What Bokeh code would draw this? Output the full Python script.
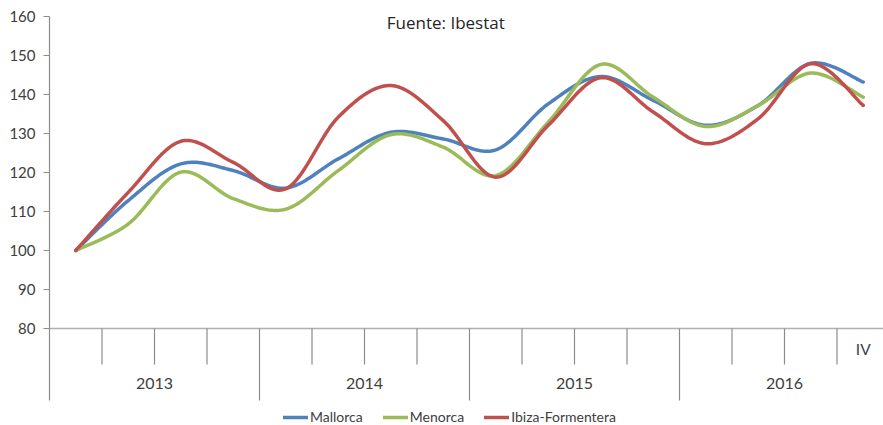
import numpy as np
from bokeh.plotting import figure
from bokeh.models import (ColumnDataSource, Legend, LegendItem, Label, FixedTicker,
                          LinearAxis, Range1d)
from bokeh.core.properties import value
from bokeh.embed import file_html
from bokeh.resources import INLINE

# ---------------- data ----------------
years = ["2013", "2014", "2015", "2016"]
quarter_labels = ["", "", "", "", "", "", "", "", "", "", "", "", "", "", "", "IV"]
mallorca = [100, 112.8, 122.2, 120.5, 116.0, 123.5, 130.3, 128.6, 125.8, 137.6, 144.6, 138.5, 132.1, 137.2, 148.0, 143.2]
menorca = [100, 106.8, 120.1, 113.3, 110.6, 120.5, 129.7, 126.5, 119.2, 132.9, 147.7, 139.3, 131.8, 137.2, 145.5, 139.3]
ibiza = [100, 114.9, 128.0, 122.6, 115.8, 134.2, 142.3, 133.3, 118.8, 132.1, 144.3, 135.5, 127.4, 133.8, 147.9, 137.2]
y_ticks = [80, 90, 100, 110, 120, 130, 140, 150, 160]

FONT = "Lato"
TEXT_COL = "#404040"
AXIS_COL = "#8c8c8c"

def smooth(vals, n=24):
    """Cubic Bezier (Catmull-Rom style) curve through the data points."""
    y = np.asarray(vals, dtype=float)
    x = np.arange(len(y), dtype=float)
    P = np.column_stack([x, y])
    out = []
    for i in range(len(P) - 1):
        p0 = P[i]
        p3 = P[i + 1]
        pm = P[i - 1] if i > 0 else P[i]
        pp = P[i + 2] if i + 2 < len(P) else P[i + 1]
        c1 = p0 + (p3 - pm) / 6.0
        c2 = p3 - (pp - p0) / 6.0
        t = np.linspace(0, 1, n, endpoint=(i == len(P) - 2))[:, None]
        seg = ((1 - t) ** 3) * p0 + 3 * ((1 - t) ** 2) * t * c1 + 3 * (1 - t) * t ** 2 * c2 + t ** 3 * p3
        out.append(seg)
    c = np.vstack(out)
    return c[:, 0], c[:, 1]

n = len(mallorca)
px_per_unit = 3.9
y_top = 160
frame_h = 409
y_bottom = y_top - frame_h / px_per_unit
x_start = -0.5
x_end = x_start + 834 / 52.5

p = figure(width=883, height=425, output_backend="svg", toolbar_location=None,
           x_range=Range1d(x_start, x_end), y_range=Range1d(y_bottom, y_top),
           min_border_left=49, min_border_right=0, min_border_top=16, min_border_bottom=0,
           outline_line_color=None, background_fill_color="white", border_fill_color="white",
           x_axis_type=None, y_axis_type=None)
p.xgrid.visible = False
p.ygrid.visible = False

# y axis
yax = LinearAxis(ticker=FixedTicker(ticks=y_ticks), bounds=(80 - 72 / px_per_unit, 160))
yax.axis_line_color = AXIS_COL
yax.axis_line_width = 1.2
yax.major_tick_line_color = AXIS_COL
yax.major_tick_out = 6
yax.major_tick_in = 0
yax.minor_tick_line_color = None
yax.major_label_text_font = FONT
yax.major_label_text_font_size = "15px"
yax.major_label_text_color = TEXT_COL
yax.major_label_standoff = 8
p.add_layout(yax, "left")

# x axis line and category ticks
p.segment(x0=[x_start], y0=[80], x1=[x_end], y1=[80], line_color="#b0b0b0", line_width=1.5)
bounds = np.arange(n - 1) + 0.5
short_y = 80 - 36 / px_per_unit
tall_y = 80 - 72 / px_per_unit
tick_end = [tall_y if (b + 0.5) % 4 == 0 else short_y for b in bounds]
p.segment(x0=bounds, y0=[80] * len(bounds), x1=bounds, y1=tick_end, line_color=AXIS_COL, line_width=1.2)

# quarter labels
q_src = ColumnDataSource(dict(x=np.arange(n), y=[80 - 20 / px_per_unit] * n, t=quarter_labels))
p.text(x="x", y="y", text="t", source=q_src, text_font=value(FONT), text_font_size="15.5px",
       text_color=TEXT_COL, text_align="center", text_baseline="middle")

# year labels
yr_src = ColumnDataSource(dict(x=[4 * k + 1.5 for k in range(len(years))],
                               y=[80 - 55 / px_per_unit] * len(years), t=years))
p.text(x="x", y="y", text="t", source=yr_src, text_font=value(FONT), text_font_size="16px",
       text_color=TEXT_COL, text_align="center", text_baseline="middle")

# series
series = [("Mallorca", mallorca, "#4F81BD"), ("Menorca", menorca, "#9BBB59"),
          ("Ibiza-Formentera", ibiza, "#C0504D")]
items = []
for name, vals, col in series:
    xs, ys = smooth(vals)
    r = p.line(xs, ys, line_color=col, line_width=3.5, line_cap="round", line_join="round")
    items.append(LegendItem(label=name, renderers=[r]))

legend = Legend(items=items, orientation="horizontal", location=(234, 0),
                glyph_width=25, glyph_height=14, label_height=14, label_standoff=2,
                spacing=20, padding=0, margin=0, border_line_color=None,
                background_fill_alpha=0, label_text_font=FONT, label_text_font_size="14px",
                label_text_color=TEXT_COL)
p.add_layout(legend)

# title
p.add_layout(Label(x=(445 - 75) / 52.5, y=160 - 6 / px_per_unit, text="Fuente: Ibestat",
                   text_font="Open Sans", text_font_size="17px", text_color="#262626",
                   text_align="center", text_baseline="middle"))

open("out.html", "w").write(file_html(p, INLINE))
